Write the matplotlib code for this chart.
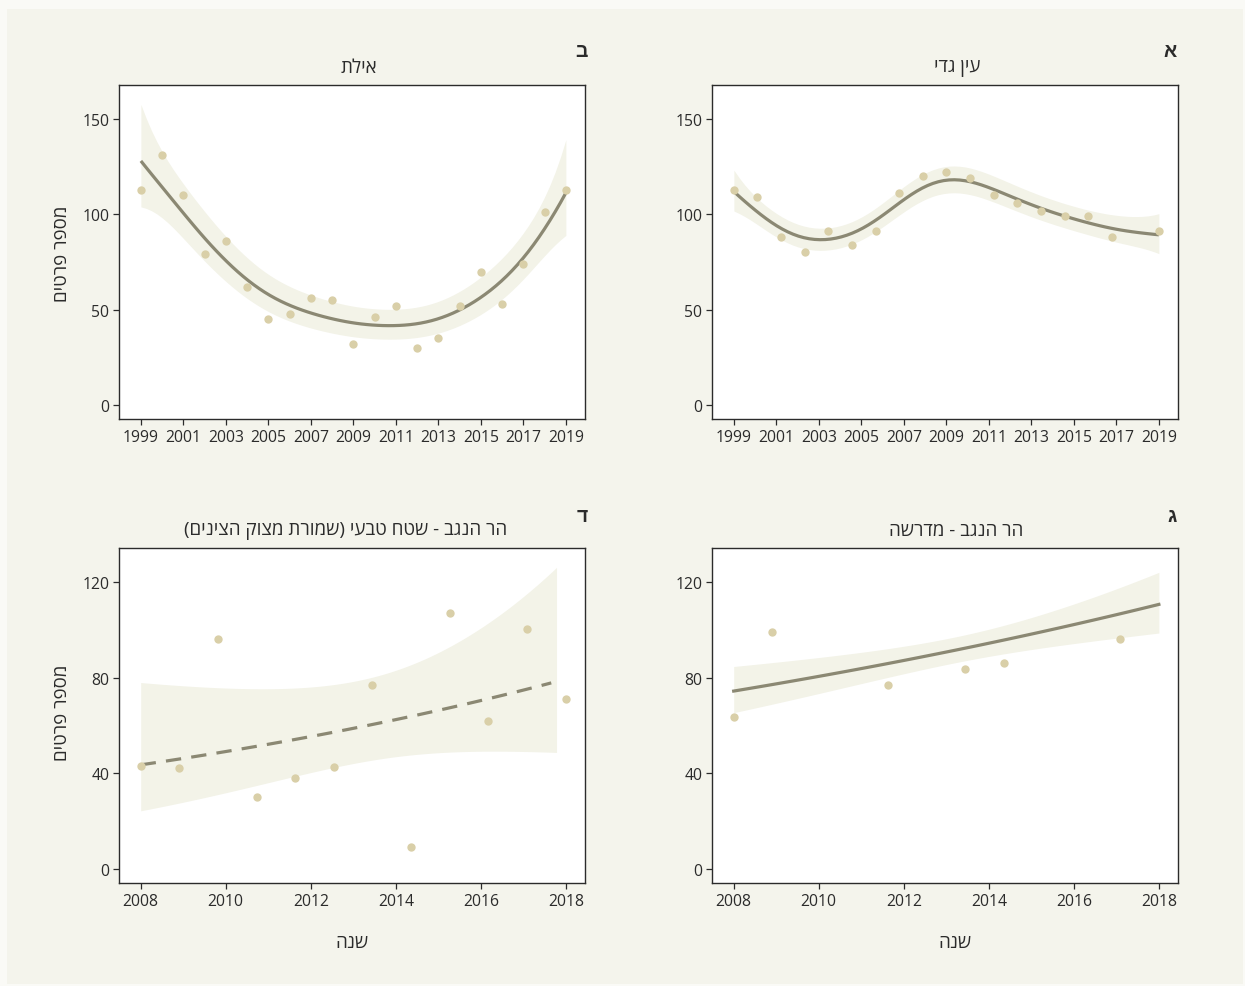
import numpy as np
import matplotlib
matplotlib.use("Agg")
import matplotlib.pyplot as plt
from matplotlib.patches import Rectangle

# ---------------- data ----------------
eilat_years = list(range(1999, 2020))
eilat_counts = [113, 131, 110, 79, 86, 62, 45, 48, 56, 55, 32, 46, 52, 30, 35, 52, 70, 53, 74, 101, 113]

ein_gedi_years = [1999.0, 2000.11, 2001.22, 2002.33, 2003.44, 2004.56, 2005.67, 2006.78, 2007.89,
                  2009.0, 2010.11, 2011.22, 2012.33, 2013.44, 2014.56, 2015.67, 2016.78, 2019.0]
ein_gedi_counts = [113, 109, 88, 80, 91, 84, 91, 111, 120, 122, 119, 110, 106, 102, 99, 99, 88, 91]

reserve_years = [2008.0, 2008.91, 2009.82, 2010.73, 2011.64, 2012.55, 2013.45, 2014.36,
                 2015.27, 2016.18, 2017.09, 2018.0]
reserve_counts = [43, 42, 96, 30, 38, 42.5, 77, 9, 107, 62, 100.5, 71]

midrasha_years = [2008.0, 2008.91, 2011.64, 2013.45, 2014.36, 2017.09]
midrasha_counts = [63.5, 99, 76.7, 83.6, 86, 96]
# fitted log-linear model for the Midrasha panel
midrasha_fit_coef = [4.309, 0.0397]       # log(mean) at 2008, slope per year
midrasha_fit_se = [0.030, 0.0109, 2013.4]  # min s.e., s.e. growth per year, year of min s.e.

titles = {"a": "עין גדי", "b": "אילת", "c": "הר הנגב - מדרשה",
          "d": "הר הנגב - שטח טבעי (שמורת מצוק הצינים)"}
letters = {"a": "א", "b": "ב", "c": "ג", "d": "ד"}
ylabel = "מספר פרטים"
xlabel = "שנה"

# ---------------- helpers ----------------
def visual(s):
    """Logical RTL string -> visual order for a left-to-right renderer."""
    mirror = {"(": ")", ")": "("}
    return "".join(mirror.get(c, c) for c in s[::-1])


def tq(df):
    z = 1.959964
    g1 = (z**3 + z) / 4
    g2 = (5 * z**5 + 16 * z**3 + 3 * z) / 96
    g3 = (3 * z**7 + 19 * z**5 + 17 * z**3 - 15 * z) / 384
    return z + g1 / df + g2 / df**2 + g3 / df**3


def bbase(x, xl, xr, nseg=20, deg=3):
    dx = (xr - xl) / nseg
    t = xl + dx * np.arange(-deg, nseg + deg + 1)
    x = np.clip(np.asarray(x, float), xl, xr - 1e-9)
    B = ((x[:, None] >= t[None, :-1]) & (x[:, None] < t[None, 1:])).astype(float)
    for d in range(1, deg + 1):
        left = (x[:, None] - t[None, :-(d + 1)]) / (t[None, d:-1] - t[None, :-(d + 1)]) * B[:, :-1]
        right = (t[None, d + 1:] - x[:, None]) / (t[None, d + 1:] - t[None, 1:-d]) * B[:, 1:]
        B = left + right
    return B


def pirls(X, y, P, lam):
    mu = y + 0.5
    eta = np.log(mu)
    for _ in range(200):
        w = mu
        z = eta + (y - mu) / mu
        A = X.T @ (w[:, None] * X) + lam * P
        beta = np.linalg.solve(A, X.T @ (w * z))
        eta_new = X @ beta
        done = np.max(np.abs(eta_new - eta)) < 1e-10
        eta = eta_new
        mu = np.exp(eta)
        if done:
            break
    w = mu
    XtWX = X.T @ (w[:, None] * X)
    Ainv = np.linalg.inv(XtWX + lam * P)
    edf = np.trace(Ainv @ XtWX)
    n = len(y)
    phi = np.sum((y - mu) ** 2 / mu) / (n - edf)
    return beta, Ainv, edf, phi


def gam_fit(x, y, target_edf, ngrid=80):
    """Quasi-Poisson penalised-spline smooth with the given effective d.f."""
    x = np.asarray(x, float)
    y = np.asarray(y, float)
    xl, xr = x.min(), x.max()
    X = bbase(x, xl, xr)
    nb = X.shape[1]
    D = np.diff(np.eye(nb), n=2, axis=0)
    P = D.T @ D
    n = len(y)
    best = None
    for lam in 10 ** np.linspace(-3, 7, 401):
        beta, Ainv, edf, phi = pirls(X, y, P, lam)
        g = abs(edf - target_edf)
        if best is None or g < best[0]:
            best = (g, beta, Ainv, edf, phi)
    _, beta, Ainv, edf, phi = best
    xg = np.linspace(xl, xr, ngrid)
    Xg = bbase(xg, xl, xr)
    eta = Xg @ beta
    se = np.sqrt(np.einsum("ij,jk,ik->i", Xg, Ainv * phi, Xg))
    tt = tq(n - edf)
    return xg, np.exp(eta), np.exp(eta - tt * se), np.exp(eta + tt * se)


def glm_fit(x, y, xg):
    x = np.asarray(x, float)
    y = np.asarray(y, float)
    X = np.column_stack([np.ones_like(x), x - 2008])
    beta, Ainv, edf, phi = pirls(X, y, np.zeros((2, 2)), 0.0)
    Xg = np.column_stack([np.ones_like(xg), xg - 2008])
    eta = Xg @ beta
    se = np.sqrt(np.einsum("ij,jk,ik->i", Xg, Ainv * phi, Xg))
    return np.exp(eta), np.exp(eta - 1.96 * se), np.exp(eta + 1.96 * se)


# ---------------- style ----------------
W, H = 1245, 987
BG = "#f4f4ec"
BAND = "#f3f3e8"
LINE = "#8b8873"
PT = "#d9cfa8"
INK = "#2b2b2b"
FONT = ["Open Sans", "Liberation Sans", "DejaVu Sans"]
plt.rcParams["font.family"] = FONT

fig = plt.figure(figsize=(W / 100, H / 100), dpi=100, facecolor="#fafaf6")
fig.patches.append(Rectangle((7 / W, 2 / H), 1236 / W, 975 / H, transform=fig.transFigure,
                             facecolor=BG, edgecolor="none", zorder=-10))


def make_ax(left, top, right, bottom):
    ax = fig.add_axes([left / W, 1 - bottom / H, (right - left) / W, (bottom - top) / H])
    ax.set_facecolor("white")
    for s in ax.spines.values():
        s.set_color(INK)
        s.set_linewidth(1.0)
    ax.tick_params(direction="out", length=4, width=0.9, color=INK, labelcolor=INK,
                   labelsize=11.3, pad=3)
    return ax


ax_b = make_ax(119, 86, 585, 420)
ax_a = make_ax(712, 86, 1178, 420)
ax_d = make_ax(119, 549, 585, 884)
ax_c = make_ax(712, 549, 1178, 884)

PT_SIZE = 36

# top panels: smooth fits
for ax, xs, ys, edf in [(ax_b, eilat_years, eilat_counts, 4.9),
                        (ax_a, ein_gedi_years, ein_gedi_counts, 6.0)]:
    xg, fit, lo, hi = gam_fit(xs, ys, edf)
    ax.fill_between(xg, lo, hi, color=BAND, lw=0, zorder=1)
    ax.plot(xg, fit, color=LINE, lw=2.3, zorder=2, solid_capstyle="butt")
    ax.scatter(xs, ys, s=PT_SIZE, color=PT, lw=0, zorder=3)
    ax.set_xlim(1997.97, 2019.9)
    ax.set_ylim(-7.3, 167.8)
    ax.set_xticks(range(1999, 2020, 2))
    ax.set_yticks([0, 50, 100, 150])

# bottom-left: dashed GLM
xg = np.linspace(2008, 2017.78, 80)
fit, lo, hi = glm_fit(reserve_years, reserve_counts, xg)
ax_d.fill_between(xg, lo, hi, color=BAND, lw=0, zorder=1)
ax_d.plot(xg[xg <= 2017.7], fit[xg <= 2017.7], color=LINE, lw=2.3, zorder=2,
          dashes=(4.8, 3.2))
ax_d.scatter(reserve_years, reserve_counts, s=PT_SIZE, color=PT, lw=0, zorder=3)

# bottom-right: log-linear model curve
xg = np.linspace(2008, 2018, 80)
eta = midrasha_fit_coef[0] + midrasha_fit_coef[1] * (xg - 2008)
se = np.sqrt(midrasha_fit_se[0] ** 2 + (midrasha_fit_se[1] * (xg - midrasha_fit_se[2])) ** 2)
ax_c.fill_between(xg, np.exp(eta - 1.96 * se), np.exp(eta + 1.96 * se), color=BAND, lw=0, zorder=1)
ax_c.plot(xg, np.exp(eta), color=LINE, lw=2.3, zorder=2)
ax_c.scatter(midrasha_years, midrasha_counts, s=PT_SIZE, color=PT, lw=0, zorder=3)

for ax in (ax_c, ax_d):
    ax.set_xlim(2007.49, 2018.45)
    ax.set_ylim(-5.9, 134.2)
    ax.set_xticks(range(2008, 2019, 2))
    ax.set_yticks([0, 40, 80, 120])


def ftext(x, y, s, **kw):
    fig.text(x / W, 1 - y / H, s, color=INK, **kw)


ftext(359, 68, visual(titles["b"]), ha="center", va="center", fontsize=13.5)
ftext(957, 68, visual(titles["a"]), ha="center", va="center", fontsize=13.5)
ftext(346, 531, visual(titles["d"]), ha="center", va="center", fontsize=13.5)
ftext(956, 531, visual(titles["c"]), ha="center", va="center", fontsize=13.5)

ftext(588, 52, letters["b"], ha="right", va="center", fontsize=14, fontweight="bold")
ftext(1177, 52, letters["a"], ha="right", va="center", fontsize=14, fontweight="bold")
ftext(588, 517, letters["d"], ha="right", va="center", fontsize=14, fontweight="bold")
ftext(1177, 517, letters["c"], ha="right", va="center", fontsize=14, fontweight="bold")

ftext(62, 254, visual(ylabel), ha="center", va="center", rotation=90, fontsize=13.5)
ftext(62, 713, visual(ylabel), ha="center", va="center", rotation=90, fontsize=13.5)
ftext(352, 943, visual(xlabel), ha="center", va="center", fontsize=13.5)
ftext(955, 943, visual(xlabel), ha="center", va="center", fontsize=13.5)

fig.savefig("out.png", dpi=100, facecolor=fig.get_facecolor())
